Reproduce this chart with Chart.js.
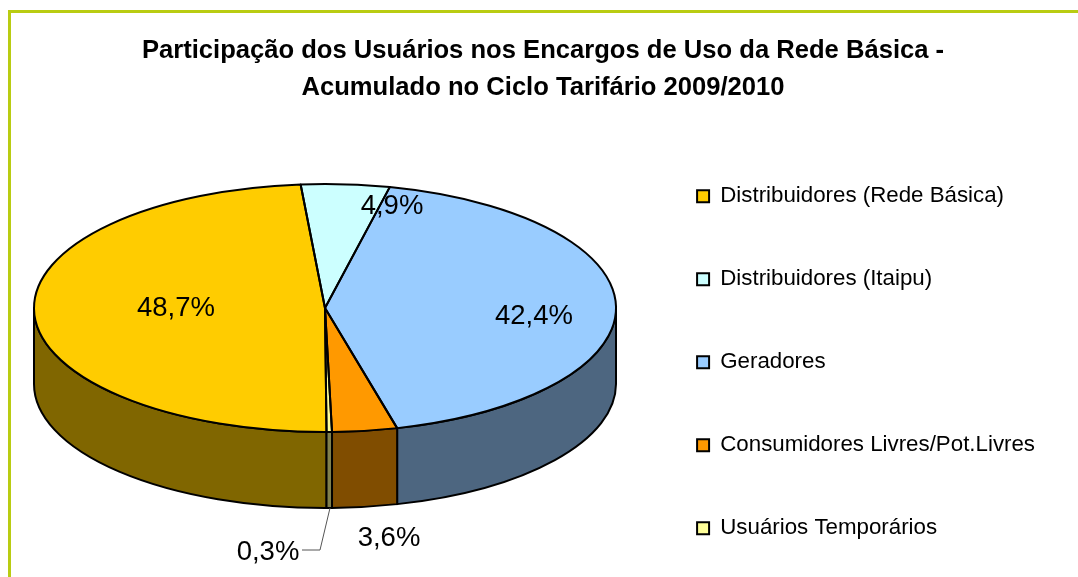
<!DOCTYPE html>
<html>
<head>
<meta charset="utf-8">
<style>
    html, body { margin: 0; padding: 0; background: #fff; overflow: hidden; }
    #frame { position: absolute; left: 8px; top: 10px; width: 1200px; height: 800px; border: 3px solid #B9CC12; }
    #chart { position: absolute; left: 0; top: 0; }
</style>
<script src="https://cdn.jsdelivr.net/npm/chart.js@4/dist/chart.umd.min.js"></script>
</head>
<body>
<div id="frame"></div>
<canvas id="chart" width="1078" height="577"></canvas>
<script>
var titleLines = ["Participação dos Usuários nos Encargos de Uso da Rede Básica -", "Acumulado no Ciclo Tarifário 2009/2010"];
var categories = ["Distribuidores (Rede Básica)", "Distribuidores (Itaipu)", "Geradores", "Consumidores Livres/Pot.Livres", "Usuários Temporários"];
var shares = [48.7, 4.9, 42.4, 3.6, 0.3];
var topColors = ["#FFCC00", "#CCFFFF", "#99CCFF", "#FF9900", "#FFFF99"];
var sideColors = ["#806600", "#668080", "#4D6680", "#804D00", "#80804D"];

// where the tilted pie sits on the page
var pieBox = { x: 325, y: 308, rx: 291, ry: 124, depth: 76 };
var labelSpots = [[176, 308], [392, 206], [534, 316], [389, 538], [268, 552]];
var leaderLine = [[330, 508], [320, 550], [302, 550]];
var legendDrop = 92.3;

function ellipsePath(ctx, y, from, to, back) {
    ctx.ellipse(pieBox.x, y, pieBox.rx, pieBox.ry, 0, from, to, back);
}

// front part of a slice, the angles between 0 and PI (or 2PI and 3PI)
function frontParts(start, end) {
    var parts = [];
    for (var k = -1; k < 3; k++) {
        var a = Math.max(start, k * 2 * Math.PI);
        var b = Math.min(end, k * 2 * Math.PI + Math.PI);
        if (b > a) parts.push([a, b]);
    }
    return parts;
}

var tiltedPie = {
    id: 'tiltedPie',
    // full height keeps the legend in one column, then move it down
    afterLayout: function (chart) {
        chart.legend.top += legendDrop;
        chart.legend.bottom += legendDrop;
    },
    beforeDatasetsDraw: function (chart) {
        var ctx = chart.ctx;
        var arcs = chart.getDatasetMeta(0).data;

        ctx.save();
        ctx.strokeStyle = '#000';
        ctx.lineWidth = 2;
        ctx.lineJoin = 'round';
        for (var i = 0; i < arcs.length; i++) {
            var parts = frontParts(arcs[i].startAngle, arcs[i].endAngle);
            for (var j = 0; j < parts.length; j++) {
                ctx.beginPath();
                ellipsePath(ctx, pieBox.y, parts[j][0], parts[j][1], false);
                ellipsePath(ctx, pieBox.y + pieBox.depth, parts[j][1], parts[j][0], true);
                ctx.closePath();
                ctx.fillStyle = sideColors[i];
                ctx.fill();
                ctx.stroke();
            }
        }
        ctx.restore();

        // squash the library's circle into the ellipse
        var first = arcs[0];
        ctx.save();
        ctx.translate(pieBox.x, pieBox.y);
        ctx.scale(pieBox.rx / first.outerRadius, pieBox.ry / first.outerRadius);
        ctx.translate(-first.x, -first.y);
    },
    afterDatasetsDraw: function (chart) {
        var ctx = chart.ctx;
        var arcs = chart.getDatasetMeta(0).data;
        ctx.restore();

        ctx.save();
        ctx.strokeStyle = '#000';
        ctx.lineWidth = 2;
        ctx.lineJoin = 'round';
        for (var i = 0; i < arcs.length; i++) {
            ctx.beginPath();
            ctx.moveTo(pieBox.x, pieBox.y);
            ellipsePath(ctx, pieBox.y, arcs[i].startAngle, arcs[i].endAngle, false);
            ctx.closePath();
            ctx.stroke();
        }

        ctx.strokeStyle = '#555';
        ctx.lineWidth = 1;
        ctx.beginPath();
        ctx.moveTo(leaderLine[0][0], leaderLine[0][1]);
        ctx.lineTo(leaderLine[1][0], leaderLine[1][1]);
        ctx.lineTo(leaderLine[2][0], leaderLine[2][1]);
        ctx.stroke();

        ctx.fillStyle = '#000';
        ctx.font = '27.5px "Liberation Sans"';
        ctx.textAlign = 'center';
        ctx.textBaseline = 'middle';
        for (var n = 0; n < shares.length; n++) {
            ctx.fillText(shares[n].toFixed(1).replace('.', ',') + '%', labelSpots[n][0], labelSpots[n][1]);
        }
        ctx.restore();
    }
};

new Chart(document.getElementById('chart'), {
    type: 'pie',
    data: {
        labels: categories,
        datasets: [{
            data: shares,
            backgroundColor: topColors,
            borderWidth: 0
        }]
    },
    plugins: [tiltedPie],
    options: {
        responsive: false,
        animation: false,
        rotation: 179.7,
        layout: { padding: { left: 41, right: 33, top: 32, bottom: 0 } },
        plugins: {
            tooltip: { enabled: false },
            title: {
                display: true,
                text: titleLines,
                color: '#000',
                font: { family: '"Liberation Sans"', size: 25.6, weight: 'bold', lineHeight: 1.45 },
                padding: { top: 0, bottom: 19 }
            },
            legend: {
                position: 'right',
                align: 'start',
                labels: {
                    color: '#000',
                    font: { family: '"Liberation Sans"', size: 22.3 },
                    boxWidth: 12,
                    boxHeight: 12,
                    padding: 60.7,
                    generateLabels: function (chart) {
                        var items = Chart.overrides.pie.plugins.legend.labels.generateLabels(chart);
                        items.forEach(function (item) {
                            item.strokeStyle = '#000';
                            item.lineWidth = 2;
                        });
                        return items;
                    }
                }
            }
        }
    }
});
</script>
</body>
</html>
